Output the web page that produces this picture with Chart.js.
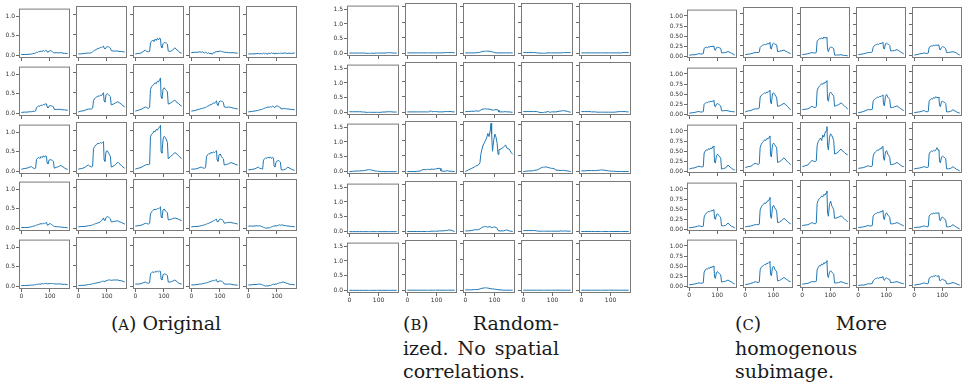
<!DOCTYPE html>
<html>
<head>
<meta charset="utf-8">
<script src="https://cdn.jsdelivr.net/npm/chart.js@4.4.1/dist/chart.umd.min.js"></script>
<style>
  body { margin: 0; background: #fff; width: 963px; height: 385px; position: relative; overflow: hidden; }
  canvas { position: absolute; }
  .cap { position: absolute; font-family: "DejaVu Serif", serif; font-size: 19px; color: #1a1a1a; line-height: 23.5px; white-space: nowrap; }
  .just { text-align: justify; text-align-last: justify; }
  .sc { font-size: 0.78em; }
</style>
</head>
<body>

<div class="cap" style="left:16px; top:312px; width:300px; text-align:center;">(<span class="sc">A</span>) Original</div>

<div class="cap" style="left:403px; top:312px; width:156px;">
  <div class="just">(<span class="sc">B</span>) Random-</div>
  <div class="just">ized. No spatial</div>
  <div>correlations.</div>
</div>

<div class="cap" style="left:735px; top:312px; width:152px;">
  <div class="just">(<span class="sc">C</span>) More</div>
  <div>homogenous</div>
  <div>subimage.</div>
</div>

<script>
// Sample positions shared by every profile
var xs = [0, 10, 20, 30, 35, 40, 46, 50, 53, 57, 61, 65, 69, 73, 77, 81, 85, 88, 90, 93, 97, 101, 105, 109, 112, 115, 122, 130, 138, 142, 150, 156, 162];

var xTicks = [0, 100];
var yTicksA = [0, 0.5, 1.0];
var yTicksB = [0, 0.5, 1.0, 1.5];
var yTicksC = [0, 0.25, 0.5, 0.75, 1.0];

// (A) original image, 5x5 subimages, row by row
var originalCells = [
  [0.02,0.02,0.02,0.03,0.03,0.04,0.05,0.06, 0.08,0.07,0.10,0.09,0.11,0.10,0.12,0.10,0.13,0.12, 0.09,0.08,0.10,0.12,0.11,0.09,0.07,0.06, 0.07,0.06,0.07,0.06,0.05,0.05,0.04],
  [0.03,0.03,0.04,0.05,0.05,0.05,0.06,0.08, 0.10,0.12,0.13,0.15,0.16,0.17,0.19,0.18,0.21,0.22, 0.17,0.15,0.19,0.21,0.20,0.19,0.17,0.11, 0.10,0.10,0.10,0.09,0.09,0.08,0.08],
  [0.03,0.04,0.05,0.10,0.12,0.09,0.08,0.09, 0.30,0.34,0.37,0.33,0.39,0.36,0.41,0.37,0.42,0.40, 0.22,0.18,0.28,0.31,0.30,0.29,0.27,0.10, 0.09,0.12,0.18,0.15,0.10,0.06,0.05],
  [0.06,0.07,0.07,0.08,0.07,0.08,0.05,0.07, 0.06,0.04,0.06,0.03,0.05,0.02,0.06,0.05,0.09,0.08, 0.10,0.08,0.09,0.10,0.09,0.08,0.08,0.07, 0.07,0.06,0.06,0.06,0.06,0.05,0.05],
  [0.03,0.03,0.03,0.04,0.04,0.03,0.04,0.03, 0.05,0.03,0.05,0.02,0.04,0.05,0.03,0.06,0.04,0.05, 0.03,0.05,0.04,0.04,0.05,0.04,0.05,0.04, 0.05,0.05,0.04,0.05,0.04,0.05,0.05],

  [0.02,0.03,0.03,0.04,0.04,0.05,0.05,0.06, 0.15,0.17,0.19,0.18,0.21,0.20,0.23,0.21,0.25,0.24, 0.17,0.14,0.18,0.20,0.19,0.18,0.17,0.10, 0.10,0.10,0.10,0.09,0.09,0.08,0.08],
  [0.03,0.05,0.06,0.09,0.10,0.10,0.10,0.12, 0.30,0.36,0.38,0.40,0.42,0.41,0.44,0.43,0.47,0.50, 0.30,0.27,0.45,0.48,0.45,0.42,0.40,0.20, 0.22,0.25,0.28,0.26,0.22,0.18,0.15],
  [0.05,0.07,0.09,0.13,0.15,0.13,0.12,0.14, 0.58,0.65,0.68,0.70,0.74,0.72,0.78,0.76,0.82,0.86, 0.40,0.36,0.58,0.62,0.58,0.55,0.52,0.22, 0.24,0.28,0.32,0.28,0.24,0.20,0.17],
  [0.05,0.06,0.08,0.10,0.11,0.12,0.13,0.14, 0.15,0.17,0.18,0.20,0.21,0.22,0.25,0.24,0.28,0.30, 0.22,0.19,0.27,0.30,0.29,0.28,0.26,0.15, 0.14,0.15,0.14,0.13,0.12,0.11,0.10],
  [0.03,0.04,0.05,0.06,0.07,0.08,0.09,0.10, 0.11,0.12,0.13,0.14,0.15,0.14,0.16,0.15,0.17,0.16, 0.14,0.15,0.17,0.18,0.16,0.15,0.14,0.10, 0.11,0.11,0.10,0.10,0.09,0.09,0.08],

  [0.05,0.07,0.08,0.11,0.12,0.09,0.07,0.08, 0.30,0.34,0.36,0.33,0.38,0.35,0.40,0.36,0.40,0.38, 0.22,0.19,0.29,0.30,0.29,0.28,0.26,0.08, 0.10,0.12,0.15,0.13,0.09,0.06,0.05],
  [0.05,0.06,0.08,0.13,0.15,0.12,0.10,0.12, 0.55,0.60,0.64,0.66,0.68,0.67,0.70,0.68,0.70,0.72, 0.28,0.24,0.48,0.50,0.45,0.40,0.36,0.10, 0.12,0.16,0.22,0.19,0.14,0.10,0.07],
  [0.05,0.07,0.09,0.13,0.15,0.16,0.16,0.17, 0.85,0.90,0.92,0.98,0.96,1.02,1.00,1.05,1.08,1.12, 0.48,0.44,0.78,0.85,0.82,0.76,0.70,0.30, 0.35,0.40,0.45,0.44,0.38,0.34,0.30],
  [0.05,0.05,0.06,0.09,0.10,0.08,0.07,0.09, 0.35,0.40,0.43,0.42,0.46,0.44,0.47,0.45,0.48,0.50, 0.28,0.24,0.40,0.42,0.36,0.32,0.30,0.15, 0.16,0.18,0.21,0.20,0.18,0.16,0.15],
  [0.03,0.04,0.05,0.08,0.10,0.07,0.06,0.05, 0.27,0.30,0.33,0.31,0.34,0.32,0.35,0.31,0.34,0.32, 0.12,0.10,0.22,0.25,0.26,0.24,0.22,0.03, 0.03,0.05,0.10,0.08,0.05,0.03,0.02],

  [0.02,0.02,0.02,0.03,0.04,0.05,0.06,0.07, 0.08,0.09,0.10,0.11,0.12,0.11,0.13,0.12,0.14,0.15, 0.09,0.08,0.11,0.12,0.10,0.08,0.06,0.05, 0.04,0.04,0.03,0.03,0.02,0.02,0.01],
  [0.03,0.04,0.04,0.05,0.06,0.06,0.07,0.08, 0.09,0.10,0.11,0.12,0.13,0.14,0.16,0.18,0.22,0.25, 0.20,0.19,0.26,0.28,0.27,0.25,0.23,0.15, 0.16,0.17,0.18,0.16,0.14,0.12,0.10],
  [0.05,0.06,0.07,0.10,0.12,0.11,0.10,0.12, 0.35,0.40,0.43,0.45,0.46,0.45,0.48,0.47,0.50,0.52, 0.28,0.25,0.44,0.47,0.42,0.40,0.38,0.20, 0.21,0.23,0.25,0.24,0.22,0.20,0.18],
  [0.03,0.04,0.04,0.05,0.06,0.07,0.08,0.09, 0.10,0.11,0.12,0.13,0.15,0.16,0.18,0.19,0.21,0.22, 0.16,0.15,0.20,0.22,0.21,0.20,0.18,0.12, 0.13,0.14,0.14,0.13,0.12,0.11,0.10],
  [0.05,0.05,0.05,0.06,0.05,0.06,0.04,0.03, 0.02,0.01,0.00,0.00,0.01,0.00,0.02,0.03,0.04,0.05, 0.05,0.06,0.05,0.06,0.07,0.08,0.07,0.08, 0.07,0.06,0.05,0.05,0.04,0.04,0.03],

  [0.02,0.02,0.02,0.03,0.03,0.03,0.04,0.04, 0.05,0.05,0.06,0.05,0.06,0.07,0.06,0.07,0.07,0.08, 0.06,0.06,0.07,0.07,0.07,0.07,0.07,0.06, 0.06,0.06,0.06,0.05,0.05,0.05,0.04],
  [0.01,0.02,0.02,0.03,0.04,0.04,0.05,0.06, 0.06,0.07,0.07,0.08,0.09,0.09,0.10,0.11,0.12,0.12, 0.11,0.12,0.13,0.14,0.15,0.15,0.15,0.14, 0.15,0.15,0.15,0.14,0.13,0.12,0.10],
  [0.05,0.05,0.06,0.09,0.10,0.08,0.07,0.08, 0.30,0.33,0.35,0.33,0.36,0.34,0.37,0.35,0.37,0.36, 0.17,0.15,0.28,0.30,0.29,0.28,0.26,0.10, 0.10,0.12,0.15,0.13,0.08,0.06,0.05],
  [0.03,0.03,0.04,0.05,0.05,0.06,0.07,0.08, 0.08,0.09,0.10,0.11,0.12,0.13,0.14,0.13,0.15,0.16, 0.11,0.10,0.12,0.13,0.12,0.11,0.09,0.05, 0.05,0.05,0.05,0.04,0.03,0.03,0.02],
  [0.03,0.03,0.04,0.04,0.05,0.05,0.04,0.03, 0.02,0.01,0.00,0.01,0.00,0.02,0.01,0.03,0.04,0.05, 0.04,0.05,0.05,0.06,0.07,0.08,0.08,0.09, 0.10,0.08,0.06,0.05,0.04,0.04,0.03]
];

// (B) randomized pixels, same layout
var randomizedCells = [
  [0.02,0.02,0.02,0.02,0.02,0.02,0.02,0.02, 0.02,0.01,0.01,0.01,0.01,0.01,0.02,0.01,0.01,0.02, 0.02,0.02,0.02,0.02,0.02,0.02,0.02,0.02, 0.02,0.03,0.03,0.03,0.02,0.02,0.02],
  [0.02,0.02,0.02,0.02,0.02,0.02,0.02,0.02, 0.02,0.02,0.02,0.02,0.02,0.02,0.02,0.02,0.02,0.02, 0.02,0.02,0.02,0.02,0.02,0.02,0.02,0.02, 0.02,0.03,0.03,0.03,0.03,0.03,0.02],
  [0.02,0.02,0.02,0.02,0.02,0.03,0.03,0.04, 0.05,0.06,0.07,0.07,0.08,0.07,0.08,0.07,0.07,0.06, 0.06,0.05,0.04,0.03,0.02,0.02,0.02,0.02, 0.02,0.02,0.02,0.02,0.02,0.02,0.02],
  [0.03,0.03,0.03,0.03,0.03,0.03,0.02,0.02, 0.02,0.01,0.01,0.01,0.01,0.01,0.01,0.02,0.02,0.02, 0.02,0.02,0.02,0.02,0.02,0.02,0.02,0.02, 0.02,0.02,0.03,0.03,0.03,0.03,0.03],
  [0.02,0.02,0.02,0.02,0.02,0.02,0.02,0.02, 0.02,0.02,0.02,0.02,0.02,0.02,0.02,0.02,0.02,0.02, 0.02,0.02,0.02,0.02,0.02,0.02,0.02,0.02, 0.02,0.02,0.02,0.03,0.03,0.03,0.03],

  [0.03,0.03,0.03,0.03,0.03,0.03,0.02,0.02, 0.02,0.01,0.01,0.01,0.01,0.01,0.01,0.01,0.01,0.01, 0.01,0.01,0.01,0.01,0.01,0.01,0.02,0.02, 0.02,0.03,0.03,0.03,0.02,0.02,0.02],
  [0.02,0.02,0.02,0.02,0.02,0.02,0.02,0.02, 0.02,0.02,0.02,0.02,0.02,0.02,0.03,0.06,0.02,0.03, 0.03,0.03,0.03,0.03,0.02,0.02,0.02,0.02, 0.02,0.03,0.03,0.03,0.03,0.02,0.02],
  [0.03,0.03,0.04,0.04,0.05,0.05,0.04,0.06, 0.08,0.10,0.11,0.11,0.12,0.11,0.11,0.11,0.10,0.10, 0.08,0.07,0.08,0.09,0.09,0.09,0.08,0.02, 0.02,0.02,0.03,0.02,0.02,0.01,0.01],
  [0.03,0.03,0.03,0.03,0.03,0.03,0.03,0.02, 0.01,0.00,0.00,0.00,0.00,0.01,0.01,0.02,0.04,0.01, 0.01,0.01,0.02,0.02,0.02,0.02,0.02,0.03, 0.04,0.05,0.06,0.05,0.04,0.02,0.01],
  [0.03,0.03,0.03,0.03,0.02,0.02,0.02,0.02, 0.01,0.01,0.01,0.01,0.01,0.01,0.01,0.01,0.01,0.01, 0.01,0.01,0.01,0.01,0.01,0.01,0.01,0.01, 0.02,0.03,0.03,0.03,0.03,0.02,0.02],

  [0.00,0.01,0.02,0.02,0.02,0.03,0.03,0.03, 0.04,0.05,0.06,0.06,0.07,0.06,0.05,0.04,0.03,0.02, 0.02,0.02,0.01,0.01,0.01,0.00,0.00,0.00, 0.00,0.00,0.00,0.00,0.00,0.00,0.00],
  [0.00,0.00,0.00,0.00,0.01,0.01,0.02,0.05, 0.06,0.06,0.06,0.06,0.07,0.07,0.06,0.08,0.07,0.08, 0.07,0.08,0.08,0.09,0.10,0.10,0.10,0.02, 0.01,0.01,0.03,0.01,0.01,0.00,0.00],
  [0.00,0.05,0.09,0.14,0.17,0.19,0.22,0.28, 0.55,0.72,0.85,0.92,1.00,1.08,1.22,1.12,1.30,1.55, 1.20,0.65,1.00,1.20,1.10,0.90,0.55,0.70, 0.72,0.78,0.85,0.75,0.72,0.62,0.55],
  [0.00,0.01,0.02,0.02,0.03,0.04,0.05,0.05, 0.08,0.10,0.12,0.13,0.14,0.14,0.15,0.14,0.13,0.12, 0.12,0.11,0.10,0.10,0.09,0.06,0.05,0.04, 0.04,0.03,0.04,0.03,0.02,0.01,0.00],
  [0.02,0.02,0.03,0.03,0.03,0.03,0.03,0.03, 0.03,0.04,0.04,0.05,0.05,0.05,0.04,0.04,0.03,0.03, 0.03,0.02,0.02,0.01,0.01,0.01,0.01,0.01, 0.00,0.00,0.00,0.00,0.00,0.00,0.00],

  [0.00,0.00,0.00,0.00,0.00,0.00,0.00,0.00, 0.00,0.00,0.00,0.00,0.00,0.00,0.00,0.00,0.00,0.00, 0.00,0.00,0.00,0.00,0.00,0.00,0.00,0.00, 0.00,0.00,0.00,0.00,0.00,0.00,0.00],
  [0.00,0.00,0.00,0.00,0.00,0.00,0.00,0.00, 0.00,0.00,0.00,0.00,0.00,0.00,0.00,0.01,0.01,0.01, 0.01,0.01,0.01,0.01,0.01,0.02,0.02,0.02, 0.02,0.03,0.04,0.05,0.04,0.02,0.00],
  [0.02,0.02,0.03,0.05,0.06,0.05,0.07,0.08, 0.10,0.13,0.15,0.15,0.16,0.15,0.14,0.15,0.16,0.14, 0.12,0.13,0.15,0.14,0.13,0.10,0.03,0.02, 0.02,0.02,0.04,0.05,0.02,0.01,0.00],
  [0.03,0.03,0.03,0.03,0.03,0.03,0.02,0.01, 0.01,0.01,0.01,0.01,0.01,0.01,0.01,0.01,0.01,0.01, 0.01,0.01,0.01,0.01,0.01,0.01,0.01,0.01, 0.01,0.02,0.01,0.02,0.01,0.01,0.01],
  [0.00,0.00,0.00,0.00,0.00,0.00,0.00,0.00, 0.00,0.00,0.00,0.00,0.00,0.00,0.00,0.00,0.00,0.00, 0.00,0.00,0.00,0.00,0.00,0.00,0.00,0.00, 0.00,0.00,0.00,0.00,0.00,0.00,0.00],

  [0.01,0.01,0.01,0.01,0.01,0.01,0.01,0.01, 0.01,0.01,0.01,0.01,0.01,0.01,0.01,0.01,0.01,0.01, 0.01,0.01,0.01,0.01,0.01,0.01,0.01,0.01, 0.01,0.01,0.01,0.01,0.01,0.01,0.01],
  [0.01,0.01,0.01,0.01,0.01,0.01,0.01,0.01, 0.01,0.01,0.01,0.01,0.01,0.01,0.01,0.01,0.01,0.01, 0.01,0.01,0.01,0.01,0.01,0.01,0.01,0.01, 0.01,0.01,0.01,0.01,0.01,0.01,0.01],
  [0.02,0.02,0.02,0.03,0.03,0.03,0.04,0.05, 0.06,0.07,0.08,0.08,0.09,0.08,0.08,0.07,0.06,0.06, 0.05,0.05,0.05,0.04,0.04,0.03,0.03,0.02, 0.02,0.01,0.01,0.01,0.01,0.01,0.01],
  [0.01,0.01,0.01,0.01,0.01,0.01,0.01,0.01, 0.01,0.01,0.01,0.01,0.01,0.01,0.01,0.01,0.01,0.01, 0.01,0.01,0.01,0.01,0.01,0.01,0.01,0.01, 0.01,0.01,0.01,0.01,0.01,0.01,0.01],
  [0.01,0.01,0.01,0.01,0.01,0.01,0.01,0.01, 0.01,0.01,0.01,0.01,0.01,0.01,0.01,0.01,0.01,0.01, 0.01,0.01,0.01,0.01,0.01,0.01,0.01,0.01, 0.01,0.01,0.01,0.01,0.01,0.01,0.01]
];

// (C) more homogenous subimage
var homogenousCells = [
  [0.02,0.03,0.03,0.05,0.06,0.05,0.05,0.06, 0.19,0.21,0.22,0.20,0.24,0.22,0.25,0.23,0.25,0.24, 0.16,0.14,0.21,0.22,0.21,0.20,0.19,0.08, 0.08,0.09,0.11,0.10,0.07,0.05,0.02],
  [0.03,0.04,0.05,0.07,0.08,0.08,0.08,0.09, 0.20,0.23,0.25,0.26,0.27,0.26,0.29,0.28,0.30,0.32, 0.18,0.16,0.28,0.30,0.28,0.27,0.26,0.10, 0.11,0.12,0.14,0.12,0.09,0.07,0.05],
  [0.03,0.04,0.05,0.07,0.08,0.07,0.07,0.08, 0.35,0.38,0.41,0.40,0.43,0.40,0.45,0.42,0.44,0.42, 0.15,0.10,0.19,0.21,0.20,0.19,0.17,0.02, 0.02,0.02,0.03,0.02,0.01,0.01,0.00],
  [0.03,0.04,0.05,0.07,0.08,0.08,0.08,0.10, 0.20,0.24,0.26,0.27,0.28,0.27,0.30,0.29,0.31,0.32, 0.18,0.16,0.29,0.30,0.28,0.27,0.25,0.12, 0.12,0.13,0.15,0.13,0.10,0.07,0.05],
  [0.02,0.03,0.05,0.06,0.07,0.06,0.06,0.07, 0.20,0.22,0.24,0.23,0.26,0.24,0.26,0.25,0.26,0.25, 0.16,0.14,0.20,0.22,0.21,0.19,0.17,0.08, 0.08,0.09,0.10,0.09,0.07,0.04,0.02],

  [0.02,0.03,0.04,0.06,0.06,0.05,0.05,0.06, 0.24,0.27,0.29,0.28,0.31,0.30,0.32,0.31,0.33,0.34, 0.20,0.18,0.25,0.26,0.24,0.22,0.20,0.08, 0.08,0.09,0.08,0.07,0.06,0.06,0.05],
  [0.05,0.07,0.08,0.11,0.12,0.12,0.12,0.14, 0.40,0.44,0.46,0.48,0.50,0.49,0.52,0.51,0.54,0.56, 0.28,0.24,0.48,0.50,0.46,0.42,0.38,0.18, 0.19,0.22,0.25,0.23,0.18,0.13,0.10],
  [0.10,0.11,0.12,0.16,0.18,0.16,0.15,0.17, 0.55,0.62,0.66,0.68,0.72,0.70,0.74,0.73,0.77,0.79, 0.35,0.30,0.48,0.52,0.48,0.45,0.42,0.18, 0.20,0.22,0.26,0.24,0.19,0.15,0.12],
  [0.03,0.04,0.06,0.09,0.10,0.10,0.10,0.11, 0.30,0.34,0.36,0.38,0.40,0.39,0.42,0.41,0.44,0.45, 0.22,0.19,0.42,0.46,0.40,0.37,0.34,0.15, 0.15,0.17,0.19,0.17,0.13,0.10,0.08],
  [0.03,0.04,0.05,0.07,0.08,0.06,0.05,0.06, 0.30,0.34,0.36,0.35,0.39,0.37,0.41,0.38,0.40,0.38, 0.20,0.17,0.29,0.30,0.28,0.27,0.25,0.05, 0.05,0.06,0.10,0.08,0.05,0.03,0.02],

  [0.05,0.07,0.08,0.11,0.12,0.11,0.10,0.11, 0.45,0.50,0.53,0.52,0.56,0.54,0.58,0.56,0.62,0.60, 0.22,0.20,0.38,0.42,0.38,0.35,0.32,0.05, 0.06,0.08,0.15,0.12,0.07,0.04,0.02],
  [0.08,0.10,0.11,0.16,0.18,0.17,0.15,0.17, 0.55,0.63,0.67,0.70,0.74,0.72,0.77,0.76,0.80,0.83, 0.38,0.33,0.62,0.66,0.62,0.58,0.54,0.20, 0.22,0.26,0.31,0.28,0.22,0.18,0.15],
  [0.10,0.12,0.14,0.22,0.25,0.23,0.22,0.24, 0.60,0.70,0.74,0.78,0.72,0.85,0.80,0.90,0.95,1.05, 0.60,0.50,0.80,0.88,0.84,0.78,0.72,0.40, 0.42,0.46,0.52,0.48,0.44,0.40,0.38],
  [0.06,0.07,0.08,0.11,0.12,0.11,0.10,0.12, 0.35,0.42,0.45,0.47,0.50,0.49,0.53,0.52,0.57,0.58, 0.30,0.25,0.45,0.48,0.40,0.36,0.32,0.15, 0.15,0.17,0.20,0.18,0.14,0.11,0.10],
  [0.05,0.06,0.07,0.09,0.10,0.09,0.08,0.09, 0.40,0.45,0.47,0.46,0.49,0.47,0.50,0.55,0.49,0.50, 0.22,0.19,0.33,0.35,0.33,0.31,0.29,0.05, 0.05,0.06,0.10,0.08,0.04,0.02,0.00],

  [0.03,0.04,0.05,0.07,0.08,0.07,0.06,0.07, 0.30,0.36,0.40,0.42,0.44,0.43,0.46,0.45,0.48,0.47, 0.27,0.24,0.36,0.38,0.34,0.31,0.28,0.08, 0.08,0.09,0.15,0.12,0.07,0.05,0.03],
  [0.05,0.06,0.07,0.09,0.10,0.10,0.10,0.11, 0.45,0.52,0.56,0.58,0.62,0.60,0.65,0.66,0.70,0.75, 0.30,0.25,0.52,0.56,0.50,0.46,0.42,0.15, 0.16,0.20,0.25,0.23,0.18,0.14,0.12],
  [0.08,0.09,0.10,0.13,0.15,0.13,0.12,0.14, 0.60,0.68,0.72,0.74,0.78,0.76,0.82,0.80,0.85,0.90, 0.40,0.30,0.58,0.66,0.55,0.50,0.46,0.25, 0.26,0.28,0.31,0.29,0.24,0.20,0.17],
  [0.03,0.04,0.05,0.07,0.08,0.07,0.07,0.08, 0.30,0.34,0.36,0.37,0.39,0.38,0.41,0.40,0.42,0.44, 0.25,0.22,0.36,0.38,0.33,0.30,0.28,0.12, 0.12,0.13,0.15,0.14,0.11,0.09,0.07],
  [0.03,0.04,0.04,0.06,0.07,0.06,0.05,0.06, 0.30,0.34,0.36,0.35,0.38,0.36,0.38,0.37,0.38,0.37, 0.22,0.19,0.27,0.28,0.25,0.23,0.21,0.05, 0.05,0.06,0.10,0.08,0.04,0.02,0.00],

  [0.03,0.04,0.05,0.07,0.08,0.07,0.07,0.08, 0.35,0.40,0.43,0.42,0.46,0.44,0.48,0.46,0.50,0.49, 0.22,0.19,0.34,0.36,0.32,0.30,0.28,0.10, 0.11,0.12,0.15,0.13,0.10,0.07,0.05],
  [0.03,0.04,0.06,0.08,0.10,0.09,0.08,0.09, 0.38,0.44,0.47,0.48,0.51,0.50,0.54,0.53,0.56,0.58, 0.28,0.24,0.44,0.47,0.40,0.36,0.33,0.12, 0.13,0.16,0.20,0.18,0.14,0.11,0.10],
  [0.04,0.05,0.06,0.09,0.10,0.10,0.10,0.11, 0.38,0.44,0.48,0.47,0.52,0.50,0.55,0.53,0.57,0.60, 0.25,0.20,0.33,0.36,0.33,0.30,0.28,0.07, 0.07,0.08,0.10,0.09,0.07,0.06,0.05],
  [0.01,0.02,0.02,0.04,0.05,0.05,0.05,0.06, 0.12,0.15,0.17,0.18,0.19,0.18,0.20,0.19,0.21,0.22, 0.15,0.13,0.18,0.19,0.17,0.16,0.15,0.08, 0.08,0.09,0.10,0.09,0.07,0.06,0.05],
  [0.02,0.03,0.04,0.06,0.07,0.06,0.05,0.06, 0.18,0.20,0.22,0.21,0.24,0.23,0.25,0.22,0.24,0.23, 0.13,0.12,0.15,0.16,0.14,0.13,0.12,0.05, 0.05,0.06,0.08,0.07,0.05,0.03,0.02]
];

// grid placement of each panel (plot boxes in page pixels)
var panels = [
  { cells: originalCells, left: 19, top: 6, stepX: 56.75, stepY: 57.75, w: 51, h: 52, yMin: -0.07, yMax: 1.2, yTicks: yTicksA, digits: 1 },
  { cells: randomizedCells, left: 347, top: 3, stepX: 58, stepY: 59.2, w: 52, h: 53, yMin: -0.08, yMax: 1.62, yTicks: yTicksB, digits: 1 },
  { cells: homogenousCells, left: 687, top: 7, stepX: 56.25, stepY: 57.5, w: 50, h: 51, yMin: -0.05, yMax: 1.16, yTicks: yTicksC, digits: 2 }
];

var tickFont = { family: 'DejaVu Sans', size: 6 };

// matplotlib-style box around each subplot
var frame = {
  id: 'frame',
  afterDraw: function (chart) {
    var a = chart.chartArea, c = chart.ctx;
    c.save();
    c.strokeStyle = '#7a7a7a';
    c.lineWidth = 1;
    c.strokeRect(a.left + 0.5, a.top + 0.5, a.right - a.left - 1, a.bottom - a.top - 1);
    c.restore();
  }
};

function addCell(p, vals, row, col) {
  var padL = col == 0 ? 28 : 5;
  var padB = row == 4 ? 12 : 5;
  var padT = 2, padR = 2;
  var bx = Math.round(p.left + col * p.stepX);
  var by = Math.round(p.top + row * p.stepY);

  var canvas = document.createElement('canvas');
  canvas.width = padL + p.w + padR;
  canvas.height = padT + p.h + padB;
  canvas.style.left = (bx - padL) + 'px';
  canvas.style.top = (by - padT) + 'px';
  document.body.appendChild(canvas);

  var points = [];
  for (var i = 0; i < xs.length; i++) {
    points.push({ x: xs[i], y: vals[i] });
  }

  new Chart(canvas, {
    type: 'line',
    data: {
      datasets: [{
        data: points,
        borderColor: '#1f77b4',
        borderWidth: 1,
        pointRadius: 0,
        tension: 0,
        fill: false
      }]
    },
    options: {
      responsive: false,
      animation: false,
      devicePixelRatio: 1,
      events: [],
      layout: { padding: { top: padT, right: padR, left: 0, bottom: 0 } },
      plugins: { legend: { display: false }, tooltip: { enabled: false } },
      scales: {
        x: {
          type: 'linear',
          min: -8,
          max: 170,
          afterBuildTicks: function (s) { s.ticks = xTicks.map(function (v) { return { value: v }; }); },
          afterFit: function (s) { s.height = padB; },
          grid: { drawOnChartArea: false, tickLength: 3, color: '#444', lineWidth: 0.8 },
          border: { display: false },
          ticks: {
            display: row == 4,
            padding: 1,
            font: tickFont,
            color: '#333',
            maxRotation: 0,
            autoSkip: false,
            callback: function (v) { return String(v); }
          }
        },
        y: {
          min: p.yMin,
          max: p.yMax,
          afterBuildTicks: function (s) { s.ticks = p.yTicks.map(function (v) { return { value: v }; }); },
          afterFit: function (s) { s.width = padL; },
          grid: { drawOnChartArea: false, tickLength: 3, color: '#444', lineWidth: 0.8 },
          border: { display: false },
          ticks: {
            display: col == 0,
            padding: 1,
            font: tickFont,
            color: '#333',
            autoSkip: false,
            callback: function (v) { return v.toFixed(p.digits); }
          }
        }
      }
    },
    plugins: [frame]
  });
}

panels.forEach(function (p) {
  for (var r = 0; r < 5; r++) {
    for (var c = 0; c < 5; c++) {
      addCell(p, p.cells[r * 5 + c], r, c);
    }
  }
});
</script>
</body>
</html>
